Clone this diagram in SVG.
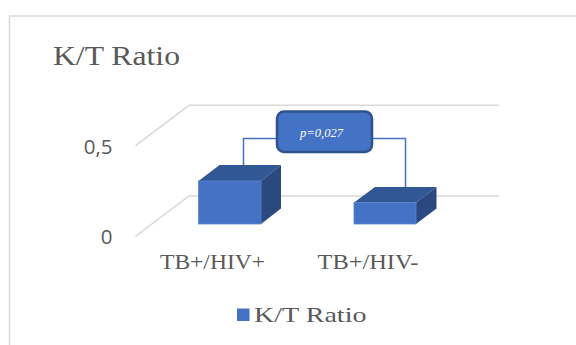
<svg xmlns="http://www.w3.org/2000/svg" width="576" height="345" viewBox="0 0 576 345">
  <style>
    .serif { font-family: "Liberation Serif", "DejaVu Serif", serif; fill: #595959; }
    .sans { font-family: "Open Sans", "Liberation Sans", sans-serif; fill: #595959; }
    .grid { fill: none; stroke: #D9D9D9; stroke-width: 1.5; }
    .front { fill: #4472C4; stroke: #5A84CC; stroke-width: 0.8; }
    .top { fill: #325795; }
    .side { fill: #2B4880; }
    .conn { fill: none; stroke: #4472C4; stroke-width: 1.5; }
  </style>

  <rect width="576" height="345" fill="#FFFFFF"/>
  <!-- chart area border -->
  <path d="M9.5 345 V16 H576" fill="none" stroke="#D9D9D9" stroke-width="1.5"/>

  <!-- title -->
  <text id="title" class="serif" x="53" y="64.5" font-size="28" textLength="127" lengthAdjust="spacingAndGlyphs">K/T Ratio</text>

  <!-- value axis -->
  <g id="axis">
    <text class="sans" x="112.5" y="154" font-size="20.5" text-anchor="end">0,5</text>
    <text class="sans" x="112.5" y="244" font-size="20.5" text-anchor="end">0</text>
    <path class="grid" d="M135.5 145.7 L189 105.3 H499"/>
    <path class="grid" d="M135.5 236.3 L189 196 H499"/>
  </g>

  <!-- connectors between bars and the p-value label -->
  <g id="connectors">
    <path class="conn" d="M243.5 165 V138.5 H277"/>
    <path class="conn" d="M372 138.5 H405.5 V187"/>
  </g>

  <g id="bar-hiv-pos">
    <polygon class="top" points="198.5,181 219.5,165 281,165 261,181"/>
    <polygon class="side" points="261,181 281,165 281,208.5 261,224"/>
    <rect class="front" x="198.5" y="181" width="62.5" height="43"/>
  </g>

  <g id="bar-hiv-neg">
    <polygon class="top" points="354,202.5 375,187 436.5,187 416,202.5"/>
    <polygon class="side" points="416,202.5 436.5,187 436.5,208.5 416,224"/>
    <rect class="front" x="354" y="202.5" width="62" height="21.5"/>
  </g>

  <g id="p-value">
    <rect x="277" y="111.5" width="95" height="40.5" rx="7" ry="7" fill="#4472C4" stroke="#2F528F" stroke-width="2.5"/>
    <text x="300" y="136.5" font-family="'Liberation Serif', 'DejaVu Serif', serif" font-style="italic" font-size="12.5" fill="#FFFFFF" textLength="43" lengthAdjust="spacingAndGlyphs">p=0,027</text>
  </g>

  <!-- category labels -->
  <g id="categories">
    <text class="serif" x="160" y="269" font-size="20.5" textLength="105" lengthAdjust="spacingAndGlyphs">TB+/HIV+</text>
    <text class="serif" x="317.5" y="269" font-size="20.5" textLength="101" lengthAdjust="spacingAndGlyphs">TB+/HIV-</text>
  </g>

  <!-- legend -->
  <g id="legend">
    <rect x="237" y="308.5" width="12.5" height="12.5" fill="#4472C4"/>
    <text class="serif" x="254" y="321.7" font-size="22" textLength="112.5" lengthAdjust="spacingAndGlyphs">K/T Ratio</text>
  </g>
</svg>
